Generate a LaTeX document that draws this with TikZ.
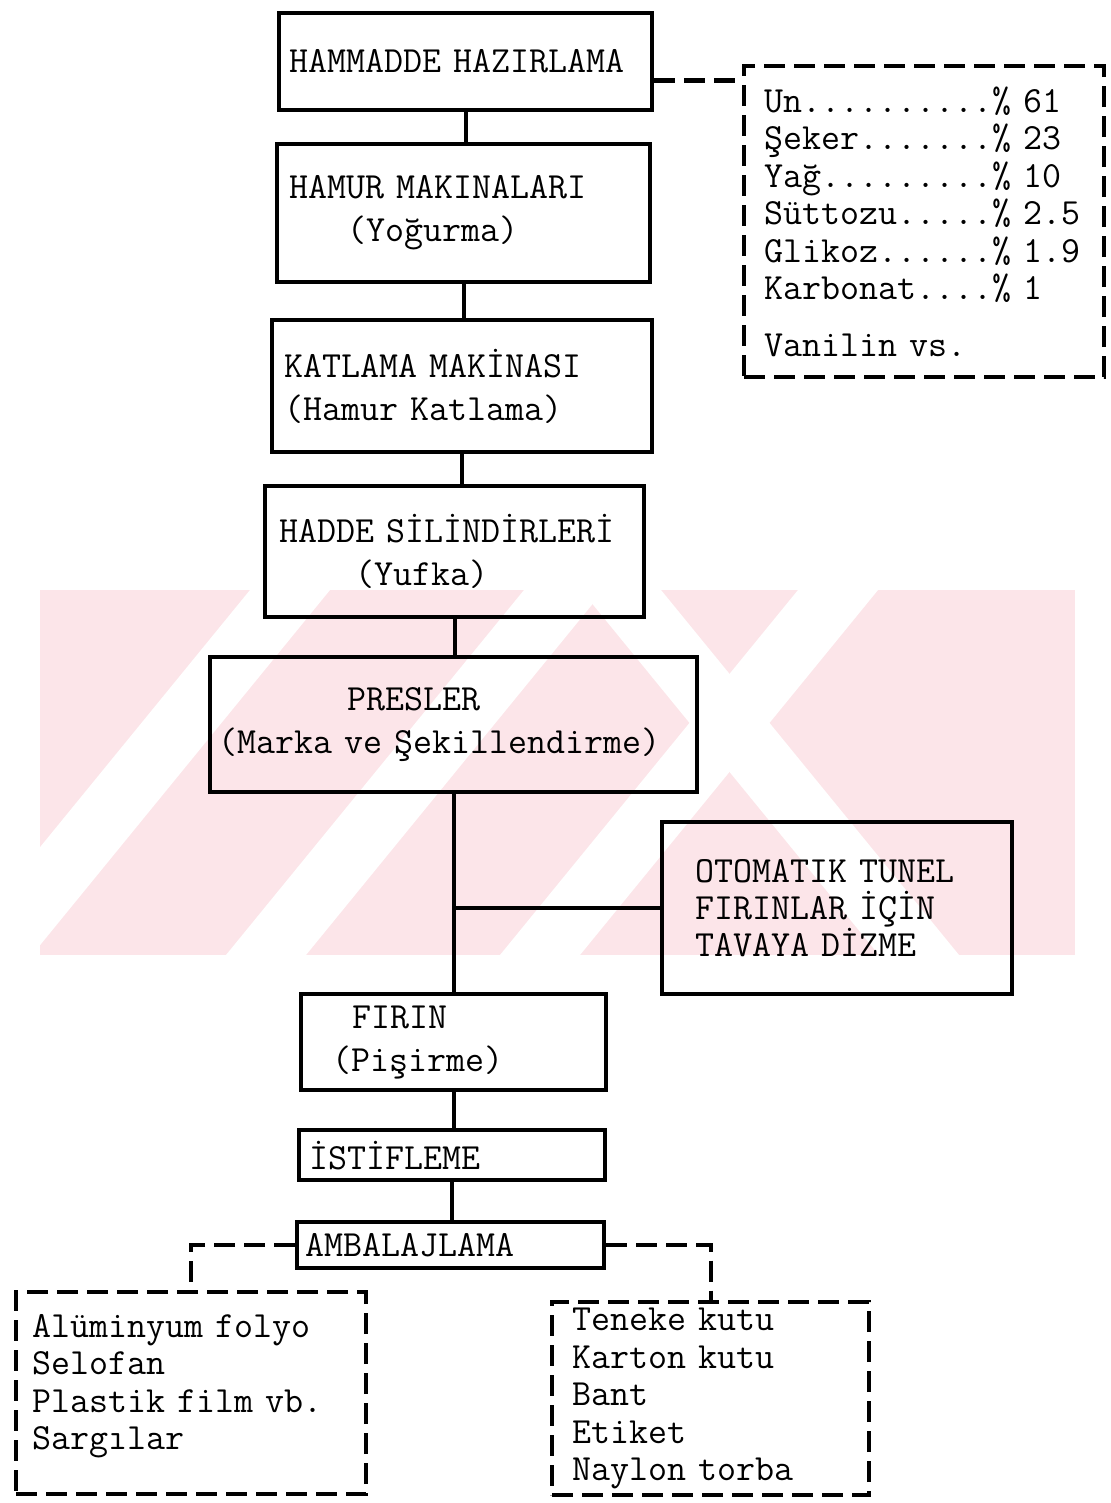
\documentclass[tikz,border=0pt]{standalone}
\usepackage{fontspec}
\newcommand{\flowfont}{\ttfamily\fontsize{21}{24.5}\selectfont}
\newcommand{\notefont}{\ttfamily\fontsize{21}{21.3}\selectfont}
\definecolor{wmpink}{RGB}{252,229,233}

\begin{document}
\begin{tikzpicture}[
  procbox/.style={draw, line width=2.4pt, align=left, anchor=north west, inner ysep=0pt, font=\flowfont},
  notebox/.style={draw, line width=2.4pt, dash pattern=on 0.42cm off 0.18cm, align=left, anchor=north west, inner ysep=0pt, font=\notefont},
  link/.style={line width=2.4pt},
  dashlink/.style={line width=2.4pt, dash pattern=on 0.42cm off 0.18cm}
]
\useasboundingbox (0,0) rectangle (22.2,-30.06);

% watermark behind the press stage
\begin{scope}
\clip (0.8,-11.8) rectangle (21.5,-19.1);
\fill[wmpink] (0.8,-11.8) rectangle (21.5,-19.1);
\foreach \x in {2.82,8.3,13.78}
  \fill[white] (\x+2.18,-11.8) -- (\x+3.78,-11.8) -- (\x-2.18,-19.1) -- (\x-3.78,-19.1) -- cycle;
\foreach \x in {15.4}
  \fill[white] (\x-3.78,-11.8) -- (\x-2.18,-11.8) -- (\x+3.78,-19.1) -- (\x+2.18,-19.1) -- cycle;
\end{scope}

% main line
\node[procbox, text width=7.06cm, inner xsep=0.2cm, minimum height=1.94cm] (hammadde) at (5.54,-0.22) {HAMMADDE~HAZIRLAMA};
\node[procbox, text width=6.98cm, inner xsep=0.24cm, minimum height=2.76cm] (hamur) at (5.5,-2.84) {HAMUR MAKINALARI\\\hspace*{1.16cm}(Yoğurma)};
\node[procbox, text width=7.12cm, inner xsep=0.24cm, minimum height=2.64cm] (katlama) at (5.4,-6.36) {KATLAMA MAKİNASI\\(Hamur Katlama)};
\node[procbox, text width=7.02cm, inner xsep=0.28cm, minimum height=2.62cm] (hadde) at (5.26,-9.68) {HADDE~SİLİNDİRLERİ\\\hspace*{1.52cm}(Yufka)};
\node[procbox, text width=9.42cm, inner xsep=0.16cm, minimum height=2.7cm] (presler) at (4.16,-13.1) {\hspace*{2.58cm}PRESLER\\(Marka~ve~Şekillendirme)};
\node[procbox, text width=5.68cm, inner xsep=0.66cm, minimum height=3.44cm, font=\notefont] (tava) at (13.2,-16.4) {OTOMATIK TUNEL\\FIRINLAR İÇİN\\TAVAYA DİZME};
\node[procbox, text width=4.86cm, inner xsep=0.62cm, minimum height=1.92cm] (firin) at (5.98,-19.84) {\hspace*{0.4cm}FIRIN\\(Pişirme)};
\node[procbox, text width=5.72cm, inner xsep=0.2cm, minimum height=1.0cm] (istif) at (5.94,-22.56) {İSTİFLEME};
\node[procbox, text width=5.82cm, inner xsep=0.16cm, minimum height=0.92cm] (ambalaj) at (5.9,-24.4) {AMBALAJLAMA};

% side notes
\node[notebox, text width=6.4cm, inner xsep=0.4cm, minimum height=6.22cm] (mix) at (14.84,-1.28) {Un..........\%~61\\Şeker.......\%~23\\Yağ.........\%~10\\Süttozu.....\%~2.5\\Glikoz......\%~1.9\\Karbonat....\%~1\\[0.38cm]Vanilin~vs.};
\node[notebox, text width=6.36cm, inner xsep=0.32cm, minimum height=4.04cm] (folyo) at (0.28,-25.8) {Alüminyum~folyo\\Selofan\\Plastik~film~vb.\\Sargılar\\[-0.3cm]\mbox{}};
\node[notebox, text width=5.54cm, inner xsep=0.4cm, minimum height=3.86cm] (kutu) at (11.0,-26.0) {Teneke kutu\\Karton kutu\\Bant\\Etiket\\Naylon torba};

% connectors
\draw[link] (hammadde.south) -- (hammadde.south |- hamur.north);
\draw[link] (hamur.south) -- (hamur.south |- katlama.north);
\draw[link] (katlama.south) -- (katlama.south |- hadde.north);
\draw[link] (hadde.south) -- (hadde.south |- presler.north);
\draw[link] (presler.south) -- (presler.south |- firin.north);
\draw[link] (tava.west) -- (tava.west -| presler.south);
\draw[link] (firin.south) -- (firin.south |- istif.north);
\draw[link] (istif.south) -- (istif.south |- ambalaj.north);
\draw[dashlink] ([yshift=-0.38cm]hammadde.east) -- ([yshift=-0.38cm]hammadde.east -| mix.west);
\draw[dashlink] (ambalaj.west) -| (folyo.north);
\draw[dashlink] (ambalaj.east) -| (kutu.north);
\end{tikzpicture}
\end{document}
